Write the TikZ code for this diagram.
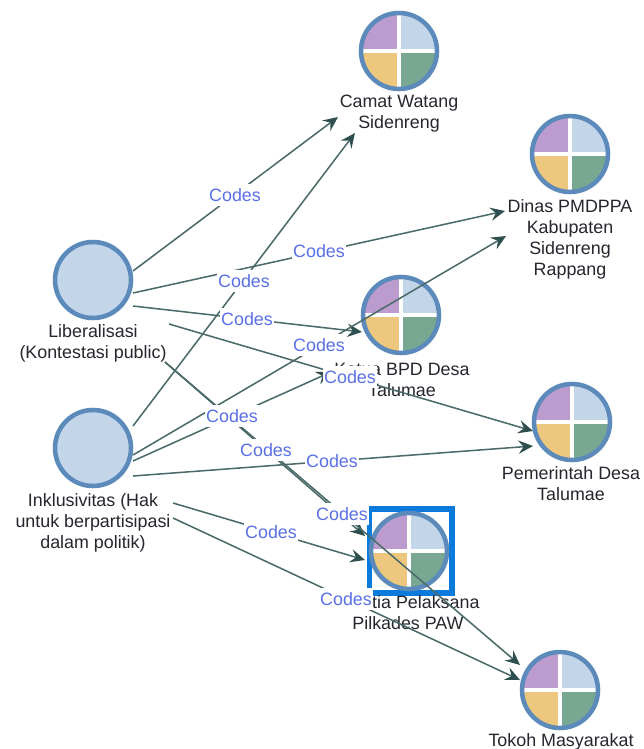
\documentclass[tikz,border=0pt]{standalone}
\usepackage{fontspec}
\setmainfont{Liberation Sans}
\usetikzlibrary{arrows.meta}
\definecolor{ring}{HTML}{5B8ABB}
\definecolor{qblue}{HTML}{C3D5E8}
\definecolor{qpurple}{HTML}{BC9BCF}
\definecolor{qorange}{HTML}{EDC77D}
\definecolor{qgreen}{HTML}{79A892}
\definecolor{edgecol}{HTML}{4A6B69}
\definecolor{tipcol}{HTML}{2F4F4F}
\definecolor{codecol}{HTML}{5A70E6}
\definecolor{selcol}{HTML}{0A7BDC}
\definecolor{labcol}{HTML}{26262E}
\tikzset{
  x=0.75pt, y=-0.75pt,
  ringnode/.style={circle, draw=ring, line width=3.4pt, minimum size=57pt, inner sep=0pt},
  plainnode/.style={ringnode, fill=qblue},
  namelabel/.style={align=center, text=labcol, inner sep=0pt, font=\fontsize{13.4}{15.75}\selectfont},
  codelink/.style={draw=edgecol, line width=1.15pt, -{Stealth[length=11pt,width=10pt,inset=4pt,color=tipcol]}},
  codetag/.style={fill=white, text=codecol, inner sep=0.6pt, minimum height=16.5pt, font=\fontsize{13.4}{14}\selectfont},
}
\newcommand{\casenode}[3]{%
  \begin{scope}
    \clip (#2,#3) circle (38);
    \fill[qpurple] (#2-40,#3-40) rectangle (#2,#3);
    \fill[qblue] (#2,#3-40) rectangle (#2+40,#3);
    \fill[qorange] (#2-40,#3) rectangle (#2,#3+40);
    \fill[qgreen] (#2,#3) rectangle (#2+40,#3+40);
    \fill[white] (#2-40,#3-2) rectangle (#2+40,#3+2);
    \fill[white] (#2-2,#3-40) rectangle (#2+2,#3+40);
  \end{scope}
  \node[ringnode] (#1) at (#2,#3) {};
}
\begin{document}
\begin{tikzpicture}
\useasboundingbox[fill=white] (0,0) rectangle (643,749);

% selection frame
\node[draw=selcol, line width=4pt, fill=white, minimum width=62pt, minimum height=63pt, inner sep=0pt] (selbox) at (410.5,551) {};

% code nodes
\node[plainnode] (lib) at (93,280) {};
\node[plainnode] (ink) at (93,448) {};
% case nodes
\casenode{camat}{399}{51}
\casenode{dinas}{570}{154}
\casenode{bpd}{401}{315}
\casenode{pem}{572}{422}
\casenode{pan}{409}{551}
\casenode{tokoh}{560}{690}

% labels
\node[namelabel] (liblabel) at (93,343.5) {Liberalisasi\\(Kontestasi public)};
\node[namelabel] (inklabel) at (93,522.5) {Inklusivitas (Hak\\untuk berpartisipasi\\dalam politik)};
\node[namelabel] (camatlabel) at (399,113.5) {Camat Watang\\Sidenreng};
\node[namelabel] (dinaslabel) at (570,239) {Dinas PMDPPA\\Kabupaten\\Sidenreng\\Rappang};
\node[namelabel] (bpdlabel) at (402,380) {Ketua BPD Desa\\Talumae};
\node[namelabel] (pemlabel) at (571,484) {Pemerintah Desa\\Talumae};
\node[namelabel] (panlabel) at (408,612.5) {Panitia Pelaksana\\Pilkades PAW};
\node[namelabel] (tokohlabel) at (561,741.5) {Tokoh Masyarakat};

% connectors
\draw[codelink] ([shift={(40,-9)}]lib.center) -- ([shift={(-61,66)}]camat.center);
\draw[codelink] ([shift={(40,13)}]lib.center) -- ([shift={(-65,57)}]dinas.center);
\draw[codelink] ([shift={(40,26)}]lib.center) -- ([shift={(-39,17)}]bpd.center);
\draw[codelink] ([shift={(76,44)}]lib.center) -- ([shift={(-39,9)}]pem.center);
\draw[codelink] ([shift={(72,82)}]lib.center) -- ([shift={(-44,-15)}]pan.center);
\draw[codelink] ([shift={(72,82)}]lib.center) -- ([shift={(-40,-25)}]tokoh.center);
\draw[codelink] ([shift={(40,-22)}]ink.center) -- ([shift={(-44,82)}]camat.center);
\draw[codelink] ([shift={(40,7)}]ink.center) -- ([shift={(-64,82)}]dinas.center);
\draw[codelink] ([shift={(40,13)}]ink.center) -- ([shift={(-70,57)}]bpd.center);
\draw[codelink] ([shift={(40,28)}]ink.center) -- ([shift={(-39,24)}]pem.center);
\draw[codelink] ([shift={(80,55)}]ink.center) -- ([shift={(-44,9)}]pan.center);
\draw[codelink] ([shift={(80,70)}]ink.center) -- ([shift={(-40,-10)}]tokoh.center);

% connector tags
\node[codetag] (c1) at (235,195) {Codes};
\node[codetag] (c2) at (319,251) {Codes};
\node[codetag] (c3) at (247,319) {Codes};
\node[codetag] (c4) at (350,377) {Codes};
\node[codetag] (c5) at (266,450) {Codes};
\node[codetag] (c6) at (342,514) {Codes};
\node[codetag] (c7) at (244,281) {Codes};
\node[codetag] (c8) at (319,345) {Codes};
\node[codetag] (c9) at (232,416) {Codes};
\node[codetag] (c10) at (332,461) {Codes};
\node[codetag] (c11) at (271,532) {Codes};
\node[codetag] (c12) at (346,599) {Codes};
\end{tikzpicture}
\end{document}
